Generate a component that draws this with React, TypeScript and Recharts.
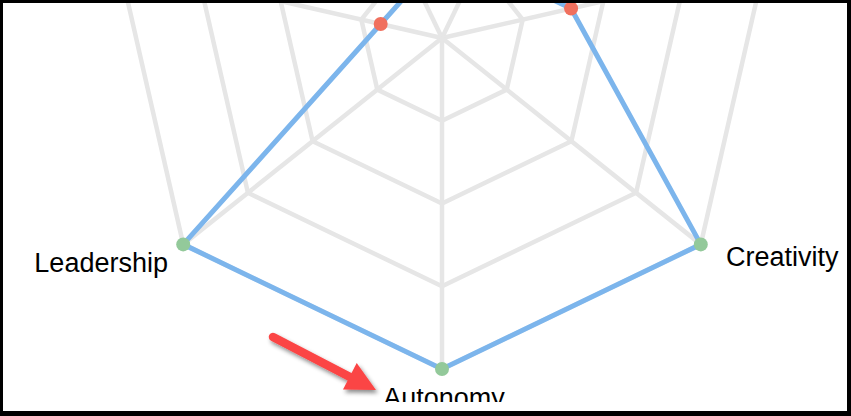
import React from 'react';
import { RadarChart, Radar, PolarGrid, PolarAngleAxis, PolarRadiusAxis } from 'recharts';

const axes = ['Autonomy', 'Leadership', 'Communication', 'Teamwork', 'Adaptability', 'Problem Solving', 'Creativity'];
const scores = [100, 100, 19, 18, 25, 40, 100];
const radiusTicks = [0, 25, 50, 75, 100];

const data = axes.map((axis, i) => ({ axis, score: scores[i] }));

const LOW = '#f0705e';
const HIGH = '#93c99a';
const LINE = '#7cb5ec';
const GRID = '#e6e6e6';

const AngleTick = (props: any) => {
  const { x, y, payload, textAnchor } = props;
  let dx = 2;
  let dy = 30;
  if (textAnchor === 'end') {
    dx = -9;
    dy = 22.5;
  } else if (textAnchor === 'start') {
    dx = 19;
    dy = 17;
  }
  return (
    <text
      x={x + dx}
      y={y + dy}
      textAnchor={textAnchor}
      fontSize={27}
      fontFamily="'Liberation Sans', Arial, sans-serif"
      fill="#000"
    >
      {payload.value}
    </text>
  );
};

const ScoreDot = (props: any) => {
  const { cx, cy, payload, index } = props;
  const v = payload && typeof payload.score === 'number' ? payload.score : 0;
  return <circle key={`dot-${index}`} cx={cx} cy={cy} r={7} fill={v < 50 ? LOW : HIGH} stroke="none" />;
};

export default function App() {
  return (
    <div
      style={{
        position: 'absolute',
        left: 0,
        top: 0,
        width: 851,
        height: 416,
        boxSizing: 'border-box',
        borderStyle: 'solid',
        borderColor: '#000',
        borderWidth: '3px 4px 5px 3px',
        background: '#fff',
      }}
    >
      <div style={{ position: 'absolute', left: 0, top: 0, width: 844, height: 399, overflow: 'hidden' }}>
        <RadarChart
          width={844}
          height={399}
          data={data}
          cx={439}
          cy={35}
          outerRadius={331}
          startAngle={-90}
          endAngle={-450}
          margin={{ top: 0, right: 0, bottom: 0, left: 0 }}
        >
          <PolarGrid stroke={GRID} strokeWidth={4.5} />
          <PolarRadiusAxis
            domain={[0, 100]}
            ticks={radiusTicks as any}
            tickCount={5}
            tick={false}
            axisLine={false}
          />
          <PolarAngleAxis dataKey="axis" tick={<AngleTick />} tickLine={false} axisLine={false} />
          <Radar
            dataKey="score"
            stroke={LINE}
            strokeWidth={5}
            strokeLinejoin="round"
            fill="none"
            fillOpacity={0}
            dot={<ScoreDot />}
            isAnimationActive={false}
          />
        </RadarChart>
      </div>
      <svg
        width={851}
        height={416}
        style={{ position: 'absolute', left: -3, top: -3, pointerEvents: 'none' }}
      >
        <defs>
          <filter id="arrowShadow" x="-20%" y="-20%" width="140%" height="140%">
            <feDropShadow dx={2} dy={3} stdDeviation={2} floodColor="#000" floodOpacity={0.45} />
          </filter>
        </defs>
        <g filter="url(#arrowShadow)">
          <line x1={273} y1={337} x2={350} y2={377} stroke="#fb4545" strokeWidth={8.5} strokeLinecap="round" />
          <polygon points="356.7,363 343,389.5 376,390" fill="#fb4545" />
        </g>
      </svg>
    </div>
  );
}
